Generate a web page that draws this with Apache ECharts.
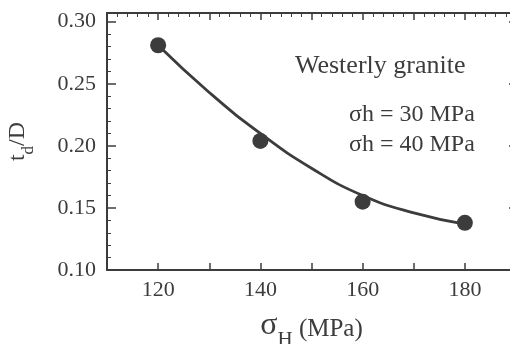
<!DOCTYPE html>
<html>
<head>
<meta charset="utf-8">
<script src="https://cdn.jsdelivr.net/npm/echarts@6/dist/echarts.min.js"></script>
<style>
  html, body { margin: 0; padding: 0; background: #fff; }
  #chart { width: 510px; height: 344px; }
</style>
</head>
<body>
<div id="chart"></div>
<script>
// measured points (sigma_H in MPa, t_d/D)
const sigmaH = [120, 140, 160, 180];
const tdD = [0.281, 0.204, 0.155, 0.138];

// fitted curve
const curveX = [120, 130, 140, 150, 160, 170, 180];
const curveY = [0.281, 0.243, 0.210, 0.182, 0.160, 0.146, 0.137];

const xTickLabels = [120, 140, 160, 180];

const ink = "#3c3c3c";
const serif = "'Liberation Serif', 'DejaVu Serif', serif";

const chart = echarts.init(document.getElementById("chart"));

const baseX = {
  type: "value",
  min: 110,
  max: 190,
  interval: 10,
  axisLine: { lineStyle: { color: ink, width: 2 } },
  splitLine: { show: false },
};
const baseY = {
  type: "value",
  min: 0.10,
  max: 0.307,
  interval: 0.05,
  axisLine: { lineStyle: { color: ink, width: 2 } },
  splitLine: { show: false },
};

chart.setOption({
  backgroundColor: "#fff",
  animation: false,
  grid: { left: 107, right: -6, top: 13, bottom: 74, containLabel: false, outerBoundsMode: "none" },
  xAxis: [
    {
      ...baseX,
      position: "bottom",
      axisTick: { inside: true, length: 7, lineStyle: { color: ink, width: 1.5 } },
      axisLabel: {
        color: ink,
        fontFamily: serif,
        fontSize: 22,
        margin: 9,
        formatter: (v) => (xTickLabels.includes(Math.round(v)) ? String(Math.round(v)) : ""),
      },
      name: "{s|σ}{sub|H}{a| (MPa)}",
      nameLocation: "middle",
      nameGap: 42,
      nameTextStyle: {
        rich: {
          s: { fontFamily: serif, fontSize: 32, color: ink, verticalAlign: "bottom", lineHeight: 30 },
          sub: { fontFamily: serif, fontSize: 21, color: ink, verticalAlign: "bottom", lineHeight: 20, padding: [0, 0, -9, 0] },
          a: { fontFamily: serif, fontSize: 25, color: ink, verticalAlign: "bottom", lineHeight: 28 },
        },
      },
    },
    {
      ...baseX,
      position: "top",
      axisTick: { inside: true, length: 7, lineStyle: { color: ink, width: 1.5 } },
      minorTick: { show: true, splitNumber: 5, length: 4, lineStyle: { color: ink, width: 1 } },
      axisLabel: { show: false },
    },
  ],
  yAxis: [
    {
      ...baseY,
      position: "left",
      axisTick: { inside: true, length: 9, lineStyle: { color: ink, width: 1.5 } },
      minorTick: { show: true, splitNumber: 5, length: 4, lineStyle: { color: ink, width: 1 } },
      axisLabel: {
        color: ink,
        fontFamily: serif,
        fontSize: 22,
        margin: 11,
        showMaxLabel: false,
        formatter: (v) => v.toFixed(2),
      },
      name: "{a|t}{b|d}{a|/D}",
      nameLocation: "middle",
      nameRotate: 90,
      nameGap: 77,
      nameTextStyle: {
        rich: {
          a: { fontFamily: serif, fontSize: 24, color: ink, verticalAlign: "bottom", lineHeight: 26 },
          b: { fontFamily: serif, fontSize: 17, color: ink, verticalAlign: "bottom", lineHeight: 16, padding: [0, 0, -7, 0] },
        },
      },
    },
    {
      ...baseY,
      position: "right",
      axisTick: { inside: true, length: 7, lineStyle: { color: ink, width: 1.5 } },
      axisLabel: { show: false },
    },
  ],
  graphic: [
    { type: "text", left: 295, top: 53, style: { text: "Westerly granite", font: "26px " + serif, fill: ink } },
    { type: "text", left: 349, top: 103, style: { text: "σh = 30 MPa", font: "24px " + serif, fill: ink } },
    { type: "text", left: 349, top: 133, style: { text: "σh = 40 MPa", font: "24px " + serif, fill: ink } },
  ],
  series: [
    {
      type: "line",
      data: curveX.map((x, i) => [x, curveY[i]]),
      smooth: true,
      showSymbol: false,
      lineStyle: { color: ink, width: 2.8 },
      z: 2,
    },
    {
      type: "scatter",
      data: sigmaH.map((x, i) => [x, tdD[i]]),
      symbol: "circle",
      symbolSize: 16,
      itemStyle: { color: ink, opacity: 1 },
      z: 3,
    },
  ],
});
</script>
</body>
</html>
